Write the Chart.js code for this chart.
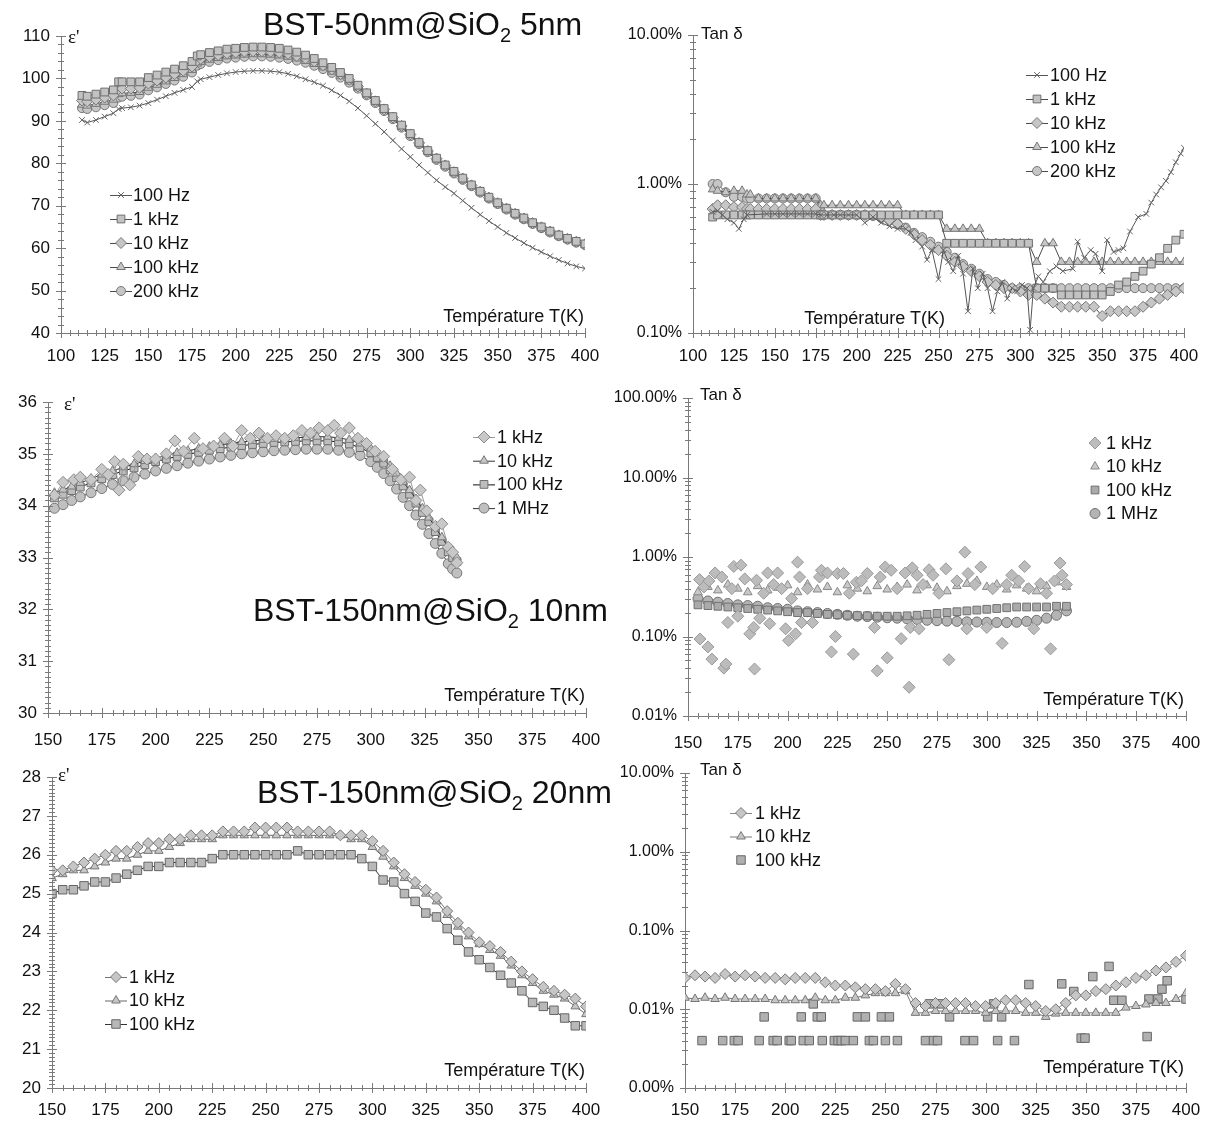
<!DOCTYPE html>
<html>
<head>
<meta charset="utf-8">
<script src="https://cdn.jsdelivr.net/npm/chart.js@4.4.1/dist/chart.umd.min.js"></script>
<style>
    body { margin: 0; background: #fff; width: 1209px; height: 1122px; position: relative; overflow: hidden;
           font-family: "Liberation Sans", Arial, sans-serif; }
    canvas { position: absolute; }
    .lbl { position: absolute; white-space: nowrap; color: #111; line-height: 1; z-index: 2; }
    .title { font-size: 32px; }
    .title sub { font-size: 20px; vertical-align: -7px; line-height: 0; }
    .eps { font-family: "Liberation Serif", serif; font-size: 19px; }
    .tan { font-size: 17px; }
    .xt { font-size: 18px; width: 200px; text-align: right; }
</style>
</head>
<body>
<canvas id="c1"></canvas><canvas id="c2"></canvas>
<canvas id="c3"></canvas><canvas id="c4"></canvas>
<canvas id="c5"></canvas><canvas id="c6"></canvas>

<div class="lbl title" style="left:263px;top:8px">BST-50nm@SiO<sub>2</sub> 5nm</div>
<div class="lbl title" style="left:253px;top:594px">BST-150nm@SiO<sub>2</sub> 10nm</div>
<div class="lbl title" style="left:257px;top:776px">BST-150nm@SiO<sub>2</sub> 20nm</div>

<div class="lbl eps" style="left:68px;top:27px">ε'</div>
<div class="lbl eps" style="left:64px;top:394px">ε'</div>
<div class="lbl eps" style="left:58px;top:765px">ε'</div>

<div class="lbl tan" style="left:701px;top:25px">Tan δ</div>
<div class="lbl tan" style="left:700px;top:386px">Tan δ</div>
<div class="lbl tan" style="left:700px;top:761px">Tan δ</div>

<div class="lbl xt" style="left:384px;top:307px">Température T(K)</div>
<div class="lbl xt" style="left:745px;top:309px">Température T(K)</div>
<div class="lbl xt" style="left:385px;top:686px">Température T(K)</div>
<div class="lbl xt" style="left:984px;top:690px">Température T(K)</div>
<div class="lbl xt" style="left:385px;top:1061px">Température T(K)</div>
<div class="lbl xt" style="left:984px;top:1058px">Température T(K)</div>

<script>
// ---- panel 1 / 2 : BST-50nm@SiO2 5nm ----
const p1Temp = [112,115,120,125,130,133,135,140,145,150,155,160,165,170,175,178,
    180,185,190,195,200,205,210,215,220,225,230,235,240,245,250,255,260,265,270,275,
    280,285,290,295,300,305,310,315,320,325,330,335,340,345,350,355,360,365,370,375,
    380,385,390,395,400];
const p1Eps100Hz = [90.2,89.6,90.2,91,91.8,92.8,93,93.2,93.6,94.2,95,95.8,96.6,97.3,98,99.3,
    99.8,100.3,100.8,101.2,101.5,101.7,101.8,101.8,101.7,101.5,
    101.1,100.5,99.8,99.1,98.3,97.2,96,94.6,93,91.2,
    89.3,87.4,85.4,83.4,81.5,79.6,77.8,76,74.4,72.9,
    71.2,69.5,67.9,66.4,65,63.6,62.4,61.2,60.1,59.1,
    58.1,57.2,56.4,55.7,55.2];
const p1Eps1k = [96,95.8,96.3,96.8,97.3,99.2,99.2,99.2,99.2,100.2,100.8,101.5,102.2,103,104,105.3,
    105.6,106.1,106.5,106.9,107.1,107.3,107.4,107.4,107.3,107.1,
    106.7,106.2,105.5,104.7,103.7,102.6,101.4,100,98.4,96.6,
    94.8,92.9,91,89,87,84.9,83,81.2,79.6,78.1,
    76.5,74.9,73.4,72,70.7,69.4,68.2,67.1,66,65,
    64,63.1,62.3,61.6,61];
const p1Eps10k = [94.8,94.6,95,95.5,96,97.5,97.6,97.6,97.8,98.8,99.5,100.2,101,101.8,102.8,104.2,
    104.6,105.1,105.5,105.9,106.1,106.3,106.4,106.4,106.3,106.1,
    105.8,105.3,104.7,104,103.1,102.1,101,99.7,98.1,96.4,
    94.6,92.7,90.8,88.8,86.8,84.8,82.9,81.1,79.5,77.9,
    76.4,74.8,73.3,71.9,70.6,69.3,68.1,67,65.9,64.9,
    63.9,63,62.2,61.5,60.9];
const p1Eps100k = [93.8,93.6,94,94.5,95,96.3,96.5,96.6,96.8,97.8,98.5,99.3,100.1,101,102,103.5,
    103.9,104.4,104.8,105.2,105.4,105.6,105.7,105.7,105.6,105.4,
    105.1,104.7,104.1,103.4,102.6,101.6,100.5,99.3,97.8,96.2,
    94.4,92.5,90.6,88.6,86.6,84.7,82.8,81,79.4,77.8,
    76.3,74.7,73.2,71.8,70.5,69.2,68,66.9,65.8,64.8,
    63.8,62.9,62.1,61.4,60.8];
const p1Eps200k = [93,92.8,93.2,93.7,94.2,95.5,95.7,95.9,96.2,97.2,97.9,98.7,99.5,100.4,101.4,103,
    103.4,103.9,104.3,104.7,104.9,105.1,105.2,105.2,105.1,104.9,
    104.6,104.2,103.7,103,102.2,101.3,100.2,99,97.6,96,
    94.2,92.3,90.4,88.4,86.4,84.5,82.6,80.8,79.2,77.6,
    76.1,74.6,73.1,71.7,70.4,69.1,67.9,66.8,65.7,64.7,
    63.7,62.8,62,61.3,60.7];

// tan delta in %, same temperatures as p1Temp
const p2Tan1k = [0.6,0.62,0.62,0.62,0.62,0.62,0.62,0.62,0.62,0.62,0.62,0.62,0.62,0.62,0.62,0.62,
    0.62,0.62,0.62,0.62,0.62,0.62,0.62,0.62,0.62,0.62,
    0.62,0.62,0.62,0.62,0.62,0.4,0.4,0.4,0.4,0.4,
    0.4,0.4,0.4,0.4,0.4,0.4,0.2,0.2,0.2,0.18,
    0.18,0.18,0.18,0.18,0.18,0.19,0.21,0.22,0.24,0.26,
    0.29,0.32,0.37,0.42,0.46];
const p2Tan10k = [0.68,0.72,0.72,0.7,0.7,0.68,0.68,0.68,0.68,0.68,0.68,0.68,0.68,0.68,0.68,0.62,
    0.62,0.62,0.62,0.62,0.62,0.62,0.62,0.6,0.57,0.54,
    0.5,0.46,0.42,0.39,0.36,0.33,0.3,0.28,0.26,0.24,
    0.22,0.21,0.2,0.2,0.19,0.18,0.18,0.17,0.16,0.15,
    0.15,0.15,0.15,0.15,0.13,0.14,0.14,0.14,0.14,0.15,
    0.16,0.17,0.18,0.19,0.2];
const p2Tan100k = [0.92,0.9,0.88,0.9,0.9,0.85,0.85,0.8,0.8,0.8,0.8,0.8,0.8,0.8,0.8,0.72,
    0.72,0.72,0.72,0.72,0.72,0.72,0.72,0.72,0.72,0.72,
    0.62,0.62,0.62,0.62,0.62,0.5,0.5,0.5,0.5,0.5,
    0.4,0.4,0.4,0.4,0.4,0.4,0.3,0.4,0.4,0.3,
    0.3,0.3,0.3,0.3,0.3,0.3,0.3,0.3,0.3,0.3,
    0.3,0.3,0.3,0.3,0.3];
const p2Tan200k = [1.0,1.0,0.88,0.82,0.82,0.8,0.8,0.8,0.8,0.8,0.8,0.8,0.8,0.8,0.8,0.66,
    0.62,0.62,0.62,0.62,0.62,0.62,0.61,0.59,0.57,0.54,
    0.51,0.47,0.44,0.41,0.38,0.35,0.32,0.29,0.27,0.25,
    0.23,0.22,0.21,0.2,0.2,0.2,0.2,0.2,0.2,0.2,
    0.2,0.2,0.2,0.2,0.2,0.2,0.2,0.2,0.2,0.2,
    0.2,0.2,0.2,0.2,0.2];
// 100 Hz is noisy, kept as [T, tan%] pairs
const p2Tan100Hz = [[112,0.65],[115,0.66],[118,0.62],[121,0.58],[125,0.55],[128,0.5],[131,0.58],[133,0.62],
    [145,0.63],[150,0.63],[155,0.63],[160,0.63],[165,0.63],[170,0.63],[175,0.63],[178,0.62],
    [182,0.62],[186,0.62],[190,0.62],[195,0.62],[200,0.62],[205,0.55],[210,0.6],[215,0.55],
    [220,0.52],[225,0.5],[230,0.5],[233,0.47],[236,0.42],[240,0.38],[243,0.31],[246,0.36],
    [250,0.23],[253,0.36],[256,0.3],[259,0.26],[262,0.33],[265,0.25],[268,0.14],[271,0.27],
    [274,0.2],[277,0.25],[280,0.2],[283,0.14],[286,0.19],[289,0.22],[292,0.17],[295,0.2],
    [298,0.19],[301,0.21],[304,0.2],[306,0.105],[308,0.2],[311,0.24],[314,0.22],[318,0.26],
    [322,0.28],[326,0.26],[332,0.27],[335,0.41],[339,0.32],[343,0.36],[346,0.34],[350,0.26],
    [353,0.42],[357,0.35],[360,0.36],[363,0.37],[367,0.48],[372,0.6],[377,0.63],[380,0.75],
    [383,0.85],[386,0.95],[389,1.05],[392,1.2],[395,1.4],[398,1.6],[400,1.75]];

// ---- panel 3 / 4 : BST-150nm@SiO2 10nm ----
const p3Temp = [153,157,161,165,170,175,180,185,190,195,200,205,210,215,220,225,230,235,240,245,
    250,255,260,265,270,275,280,285,290,295,300,303,306,309,312,315,318,321,324,327,330,333,336,338,340];
const p3Eps10k = [34.25,34.31,34.37,34.44,
    34.52,34.6,34.67,34.74,34.8,34.86,34.92,34.97,35.02,35.06,35.1,35.14,35.17,35.2,35.23,35.25,
    35.27,35.29,35.3,35.31,35.32,35.33,35.33,35.31,35.27,35.2,35.1,
    35.01,34.9,34.77,34.62,34.46,34.3,34.13,33.95,33.77,33.58,33.39,33.2,
    33.08,33.0];
const p3Eps100k = [34.15,34.22,34.29,34.36,
    34.44,34.52,34.6,34.67,34.73,34.79,34.85,34.9,34.95,34.99,35.03,35.07,35.1,35.13,35.16,35.18,
    35.2,35.22,35.23,35.24,35.25,35.25,35.25,35.23,35.19,35.12,35.02,
    34.93,34.82,34.69,34.54,34.38,34.22,34.05,33.87,33.69,33.5,33.31,33.11,
    33.0,32.92];
const p3Eps1M = [33.95,34.02,34.1,34.17,
    34.25,34.33,34.41,34.48,34.55,34.61,34.67,34.72,34.77,34.82,34.86,34.9,34.94,34.97,35.0,35.02,
    35.04,35.06,35.07,35.08,35.09,35.09,35.09,35.07,35.03,34.97,34.85,
    34.74,34.62,34.48,34.32,34.16,34.0,33.82,33.64,33.46,33.27,33.08,32.88,
    32.78,32.7];
const p3Eps1k = [[153,34.2],[157,34.45],[162,34.5],[165,34.55],[170,34.5],[175,34.7],[178,34.6],
    [181,34.85],[183,34.3],[185,34.8],[188,34.4],[192,34.95],[196,34.9],[200,34.9],[205,35.0],
    [209,35.25],[213,35.05],[218,35.3],[222,35.1],[227,35.15],[232,35.3],[236,35.15],[240,35.45],
    [244,35.3],[248,35.4],[252,35.3],[256,35.35],[260,35.3],[264,35.35],[268,35.45],[272,35.4],
    [276,35.5],[280,35.45],[283,35.55],[286,35.4],[290,35.5],[294,35.3],[298,35.2],[302,35.05],
    [306,34.95],[310,34.7],[314,34.5],[318,34.55],[321,34.1],[323,34.3],[326,33.9],[330,33.6],
    [333,33.65],[336,33.2],[338,33.1],[340,32.9]];

const p4Temp = [155,160,165,170,175,180,185,190,195,200,205,210,215,220,225,230,235,240,245,250,
    255,260,265,270,275,280,285,290,295,300,305,310,315,320,325,330,335,340];
const p4Tan10k = [0.36,0.42,0.38,0.45,0.4,0.36,0.43,0.38,0.41,0.44,
    0.36,0.45,0.39,0.42,0.36,0.44,0.4,0.37,0.43,0.39,
    0.42,0.45,0.38,0.44,0.41,0.37,0.43,0.46,0.5,0.42,
    0.45,0.39,0.44,0.4,0.37,0.43,0.48,0.42];
const p4Tan100k = [0.25,0.245,0.24,0.235,0.23,0.225,0.22,0.215,0.21,0.205,
    0.2,0.2,0.195,0.19,0.188,0.185,0.183,0.182,0.18,0.18,
    0.18,0.182,0.185,0.19,0.195,0.2,0.205,0.21,0.215,0.22,
    0.225,0.23,0.235,0.235,0.235,0.235,0.24,0.24];
const p4Tan1M = [0.3,0.28,0.27,0.26,0.25,0.245,0.24,0.23,0.225,0.22,
    0.21,0.205,0.2,0.195,0.19,0.185,0.18,0.178,0.175,0.172,
    0.17,0.167,0.164,0.16,0.158,0.156,0.155,0.153,0.152,0.151,
    0.15,0.15,0.151,0.155,0.16,0.17,0.185,0.21];
const p4Tan1k = [[155.8,0.52],[156,0.093],[158,0.42],[160,0.074],[160.5,0.5],[162,0.052],[163.6,0.63],
    [167,0.56],[168,0.04],[169,0.045],[170,0.15],[172,0.4],[173,0.76],[175,0.18],[176.6,0.79],
    [178.5,0.53],[181,0.108],[183,0.13],[183.4,0.039],[184.4,0.51],[186,0.17],[188,0.35],[190,0.63],
    [191,0.145],[193,0.45],[195,0.63],[197,0.4],[199,0.125],[200.5,0.089],[202,0.3],[204,0.108],
    [205,0.86],[206,0.56],[207,0.15],[210,0.4],[212.5,0.15],[216,0.56],[217,0.68],[220,0.63],
    [222,0.064],[224,0.1],[225,0.62],[228,0.62],[231,0.35],[233,0.06],[234.5,0.48],[237,0.5],
    [240,0.62],[243.6,0.13],[245,0.037],[246.5,0.56],[249,0.75],[250,0.054],[252,0.68],[255,0.4],
    [257,0.094],[259,0.63],[261,0.023],[261.6,0.13],[262.6,0.73],[265,0.59],[266,0.125],[268,0.45],
    [271,0.69],[273,0.59],[276,0.35],[279.5,0.71],[281,0.051],[285,0.5],[289,1.15],[290,0.125],
    [290.6,0.62],[294,0.45],[297,0.75],[300,0.13],[303,0.4],[307.7,0.082],[310,0.45],[312.5,0.59],
    [316,0.5],[319,0.76],[321,0.4],[323.6,0.125],[327,0.46],[330,0.35],[332,0.07],[334,0.5],
    [336.8,0.84],[337.8,0.59],[340,0.45]];

// ---- panel 5 / 6 : BST-150nm@SiO2 20nm ----
const p5Temp = [150,155,160,165,170,175,180,185,190,195,200,205,210,215,220,225,230,235,240,245,
    250,255,260,265,270,275,280,285,290,295,300,305,310,315,320,325,330,335,340,345,
    350,355,360,365,370,375,380,385,390,395,400];
const p5Eps1k = [25.6,25.6,25.7,25.8,25.9,26.0,26.1,26.1,26.2,26.3,
    26.3,26.4,26.4,26.5,26.5,26.5,26.6,26.6,26.6,26.7,
    26.7,26.7,26.7,26.6,26.6,26.6,26.6,26.5,26.5,26.5,
    26.35,26.1,25.8,25.5,25.3,25.1,24.9,24.55,24.25,24.0,
    23.75,23.65,23.5,23.25,23.0,22.8,22.6,22.5,22.4,22.3,
    22.1];
const p5Eps10k = [25.4,25.5,25.6,25.6,25.7,25.8,25.9,25.9,26.0,26.1,
    26.1,26.2,26.3,26.4,26.4,26.4,26.5,26.5,26.5,26.5,
    26.5,26.5,26.5,26.5,26.5,26.5,26.5,26.5,26.4,26.4,
    26.2,25.95,25.7,25.4,25.2,25.0,24.8,24.45,24.15,23.9,
    23.7,23.55,23.4,23.15,22.9,22.7,22.5,22.4,22.3,22.1,
    21.9];
const p5Eps100k = [25.0,25.1,25.1,25.2,25.3,25.3,25.4,25.5,25.6,25.7,
    25.7,25.8,25.8,25.8,25.8,25.9,26.0,26.0,26.0,26.0,
    26.0,26.0,26.0,26.1,26.0,26.0,26.0,26.0,26.0,25.9,
    25.7,25.35,25.3,25.0,24.8,24.5,24.4,24.1,23.8,23.5,
    23.3,23.1,22.9,22.7,22.5,22.2,22.1,22.0,21.8,21.6,
    21.6];

const p6Tan1k = [0.025,0.027,0.026,0.025,0.028,0.026,0.027,0.026,0.025,0.025,
    0.024,0.025,0.025,0.025,0.022,0.02,0.02,0.019,0.018,0.018,
    0.017,0.021,0.018,0.012,0.011,0.012,0.012,0.012,0.012,0.011,
    0.011,0.012,0.013,0.013,0.012,0.011,0.0095,0.01,0.012,0.015,
    0.015,0.017,0.018,0.02,0.022,0.025,0.027,0.031,0.034,0.04,
    0.048];
const p6Tan10k = [0.014,0.0135,0.014,0.0135,0.014,0.0135,0.0135,0.0135,0.0135,0.013,
    0.013,0.013,0.013,0.014,0.013,0.013,0.014,0.014,0.015,0.016,
    0.016,0.016,0.017,0.009,0.009,0.0095,0.0095,0.0095,0.0095,0.0095,
    0.009,0.0095,0.0095,0.0095,0.009,0.009,0.008,0.0088,0.009,0.009,
    0.009,0.009,0.009,0.009,0.0105,0.011,0.0115,0.012,0.012,0.0135,
    0.016];
const p6Tan100k = [[158.5,0.004],[168.8,0.004],[174.6,0.004],[176.5,0.004],[187,0.004],[189.5,0.008],
    [194,0.004],[196,0.004],[202,0.004],[203,0.004],[208,0.008],[209,0.004],[212,0.004],[214,0.0117],
    [216,0.008],[218,0.008],[218.5,0.004],[224.5,0.004],[226.4,0.004],[228,0.004],[230,0.004],
    [234,0.004],[236,0.008],[240,0.008],[242,0.004],[244,0.004],[248,0.008],[250,0.004],[252,0.008],
    [256,0.004],[270,0.004],[272,0.0117],[274,0.004],[276,0.004],[278,0.0117],[282,0.008],
    [289.7,0.004],[294,0.004],[301,0.008],[304,0.0117],[306,0.004],[308,0.008],[314.4,0.004],
    [321.6,0.0206],[338,0.021],[344,0.0168],[347.7,0.0043],[349.6,0.0043],[353.5,0.026],
    [361.6,0.035],[364,0.013],[368,0.013],[380.6,0.0045],[381.5,0.0135],[386,0.0135],[388,0.018],
    [390.6,0.023],[400,0.0135]];

const logDecades1 = [0.1, 1, 10];
const logDecades2 = [0.01, 0.1, 1, 10, 100];
const logDecades3 = [0.001, 0.01, 0.1, 1, 10];

const FONT = '"Liberation Sans", Arial, sans-serif';

// small tick marks crossing both axes (major + minor)
const axisTicks = {
    id: 'axisTicks',
    afterDraw(chart, args, opts) {
        const { ctx, chartArea: a } = chart;
        const xs = chart.scales.x, ys = chart.scales.y;
        ctx.save();
        ctx.strokeStyle = '#7a7a7a';
        ctx.lineWidth = 1;
        ctx.beginPath();
        const nx = Math.round((xs.max - xs.min) / opts.xMinor);
        const every = Math.round(opts.xMajor / opts.xMinor);
        for (let i = 0; i <= nx; i++) {
            const px = Math.round(xs.getPixelForValue(xs.min + i * opts.xMinor)) + 0.5;
            const len = i % every === 0 ? 5 : 3;
            ctx.moveTo(px, a.bottom - len);
            ctx.lineTo(px, a.bottom + len);
        }
        const yv = [];
        if (ys.type === 'logarithmic') {
            for (let d = ys.min; d < ys.max * 0.999; d *= 10) {
                for (let k = 1; k <= 9; k++) yv.push([d * k, k === 1]);
            }
            yv.push([ys.max, true]);
        } else {
            const ny = Math.round((ys.max - ys.min) / opts.yMinor);
            const ev = Math.round(opts.yMajor / opts.yMinor);
            for (let i = 0; i <= ny; i++) yv.push([ys.min + i * opts.yMinor, i % ev === 0]);
        }
        yv.forEach(([v, major]) => {
            const py = Math.round(ys.getPixelForValue(v)) + 0.5;
            const len = major ? 5 : 3;
            ctx.moveTo(a.left - len, py);
            ctx.lineTo(a.left + len, py);
        });
        ctx.stroke();
        ctx.restore();
    }
};

// legend drawn inside the plot, at a fixed spot
const boxLegend = {
    id: 'boxLegend',
    afterDraw(chart, args, opts) {
        const ctx = chart.ctx;
        ctx.save();
        ctx.font = '18px ' + FONT;
        ctx.textBaseline = 'middle';
        chart.data.datasets.forEach((ds, i) => {
            const x = opts.x, y = opts.y + i * opts.gap;
            if (ds.showLine) {
                ctx.strokeStyle = ds.borderColor;
                ctx.lineWidth = 1;
                ctx.beginPath();
                ctx.moveTo(x - 11, y + 0.5);
                ctx.lineTo(x + 11, y + 0.5);
                ctx.stroke();
            }
            ctx.fillStyle = ds.pointBackgroundColor;
            ctx.strokeStyle = ds.pointBorderColor;
            ctx.lineWidth = 1;
            Chart.helpers.drawPoint(ctx, { pointStyle: ds.pointStyle, radius: ds.pointRadius, rotation: 0, borderWidth: 1 }, x, y);
            ctx.fillStyle = '#111';
            ctx.fillText(ds.label, x + opts.textDx, y + 1);
        });
        ctx.restore();
    }
};

function pts(xs, ys) { return xs.map((x, i) => ({ x: x, y: ys[i] })); }
function pairs(list) { return list.map(p => ({ x: p[0], y: p[1] })); }

function series(label, data, shape, radius, withLine, look) {
    look = look || {};
    return {
        label: label,
        data: data,
        showLine: withLine,
        borderColor: look.line || '#4a4a4a',
        borderWidth: 1,
        pointStyle: shape,
        pointRadius: radius,
        pointBackgroundColor: look.fill || (shape === 'crossRot' ? '#6a6a6a' : '#c6c6c6'),
        pointBorderColor: look.edge || '#777',
        pointBorderWidth: 1
    };
}

function makePanel(p) {
    const cv = document.getElementById(p.id);
    cv.width = p.w;
    cv.height = p.h;
    cv.style.left = p.left + 'px';
    cv.style.top = p.top + 'px';
    const tickFont = { family: FONT, size: 17 };
    const yLog = p.yType === 'logarithmic';
    const yScale = {
        type: p.yType,
        min: p.yMin,
        max: p.yMax,
        ticks: { color: '#111', font: yLog ? { family: FONT, size: 16 } : tickFont, padding: 11, autoSkip: false },
        grid: { display: true, drawOnChartArea: false, drawTicks: false },
        border: { display: true, color: '#7a7a7a', width: 1 },
        // fixed axis width, and no extra room asked for the end labels
        afterFit: s => { s.width = p.area.l - p.left; s.paddingTop = 0; s.paddingBottom = 0; }
    };
    if (yLog) {
        yScale.afterBuildTicks = s => { s.ticks = p.yTicks.map(v => ({ value: v })); };
        yScale.ticks.callback = v => Number(v).toFixed(2) + '%';
    } else {
        yScale.ticks.stepSize = p.yStep;
    }
    new Chart(cv, {
        type: 'scatter',
        data: { datasets: p.datasets },
        options: {
            responsive: false,
            animation: false,
            events: [],
            layout: { padding: { top: p.area.t - p.top, right: p.left + p.w - p.area.r, left: 0, bottom: 0 } },
            elements: { line: { tension: 0 } },
            plugins: {
                legend: { display: false },
                tooltip: { enabled: false },
                axisTicks: p.minor,
                boxLegend: p.legend
            },
            scales: {
                x: {
                    type: 'linear',
                    min: p.xMin,
                    max: p.xMax,
                    ticks: { stepSize: 25, autoSkip: false, maxRotation: 0, padding: p.xPad, color: '#111', font: tickFont },
                    grid: { display: true, drawOnChartArea: false, drawTicks: false },
                    border: { display: true, color: '#7a7a7a', width: 1 },
                    afterFit: s => { s.height = p.top + p.h - p.area.b; s.paddingLeft = 0; s.paddingRight = 0; }
                },
                y: yScale
            }
        },
        plugins: [axisTicks, boxLegend]
    });
}

document.addEventListener("DOMContentLoaded", function () {
    const sq = { fill: '#c2c2c2', edge: '#6f6f6f' };

    makePanel({
        id: 'c1', left: 0, top: 0, w: 600, h: 375, area: { l: 61, t: 36, r: 585, b: 333 }, xPad: 13,
        xMin: 100, xMax: 400, yType: 'linear', yMin: 40, yMax: 110, yStep: 10,
        minor: { xMinor: 5, xMajor: 25, yMinor: 2, yMajor: 10 },
        legend: { x: 121, y: 195, gap: 24, textDx: 12 },
        datasets: [
            series('100 Hz', pts(p1Temp, p1Eps100Hz), 'crossRot', 4, true, { line: '#555', edge: '#666' }),
            series('1 kHz', pts(p1Temp, p1Eps1k), 'rect', 5.5, true, sq),
            series('10 kHz', pts(p1Temp, p1Eps10k), 'rectRot', 5.5, true),
            series('100 kHz', pts(p1Temp, p1Eps100k), 'triangle', 5, true),
            series('200 kHz', pts(p1Temp, p1Eps200k), 'circle', 4.5, true)
        ]
    });

    makePanel({
        id: 'c2', left: 600, top: 0, w: 609, h: 375, area: { l: 693, t: 35, r: 1184, b: 333 }, xPad: 13,
        xMin: 100, xMax: 400, yType: 'logarithmic', yMin: 0.1, yMax: 10, yTicks: logDecades1,
        minor: { xMinor: 5, xMajor: 25 },
        legend: { x: 437, y: 75, gap: 24, textDx: 13 },
        datasets: [
            series('100 Hz', pairs(p2Tan100Hz), 'crossRot', 4, true, { line: '#555', edge: '#666' }),
            series('1 kHz', pts(p1Temp, p2Tan1k), 'rect', 5.5, true, sq),
            series('10 kHz', pts(p1Temp, p2Tan10k), 'rectRot', 5.5, true),
            series('100 kHz', pts(p1Temp, p2Tan100k), 'triangle', 5, true),
            series('200 kHz', pts(p1Temp, p2Tan200k), 'circle', 4.5, true)
        ]
    });

    makePanel({
        id: 'c3', left: 0, top: 375, w: 605, h: 385, area: { l: 48, t: 402, r: 586, b: 713 }, xPad: 17,
        xMin: 150, xMax: 400, yType: 'linear', yMin: 30, yMax: 36, yStep: 1,
        minor: { xMinor: 5, xMajor: 25, yMinor: 0.1, yMajor: 1 },
        legend: { x: 484, y: 62, gap: 23.7, textDx: 13 },
        datasets: [
            series('1 kHz', pairs(p3Eps1k), 'rectRot', 6, true, { line: '#999', fill: '#c8c8c8', edge: '#8a8a8a' }),
            series('10 kHz', pts(p3Temp, p3Eps10k), 'triangle', 5, true, { line: '#333' }),
            series('100 kHz', pts(p3Temp, p3Eps100k), 'rect', 5.5, true, { line: '#111', fill: '#bdbdbd', edge: '#6f6f6f' }),
            series('1 MHz', pts(p3Temp, p3Eps1M), 'circle', 5, true, { line: '#333', fill: '#c0c0c0' })
        ]
    });

    makePanel({
        id: 'c4', left: 605, top: 375, w: 604, h: 385, area: { l: 688, t: 398, r: 1186, b: 716 }, xPad: 17,
        xMin: 150, xMax: 400, yType: 'logarithmic', yMin: 0.01, yMax: 100, yTicks: logDecades2,
        minor: { xMinor: 5, xMajor: 25 },
        legend: { x: 490, y: 68, gap: 23.5, textDx: 11 },
        datasets: [
            series('1 kHz', pairs(p4Tan1k), 'rectRot', 6, false, { fill: '#bcbcbc', edge: '#999' }),
            series('10 kHz', pts(p4Temp, p4Tan10k), 'triangle', 5, false, { fill: '#c8c8c8', edge: '#888' }),
            series('100 kHz', pts(p4Temp, p4Tan100k), 'rect', 5.5, false, { fill: '#aaa', edge: '#707070' }),
            series('1 MHz', pts(p4Temp, p4Tan1M), 'circle', 5, false, { fill: '#b4b4b4', edge: '#707070' })
        ]
    });

    makePanel({
        id: 'c5', left: 0, top: 760, w: 605, h: 362, area: { l: 52, t: 777, r: 586, b: 1088 }, xPad: 12,
        xMin: 150, xMax: 400, yType: 'linear', yMin: 20, yMax: 28, yStep: 1,
        minor: { xMinor: 5, xMajor: 25, yMinor: 0.1, yMajor: 1 },
        legend: { x: 116, y: 217, gap: 23.5, textDx: 13 },
        datasets: [
            series('1 kHz', pts(p5Temp, p5Eps1k), 'rectRot', 5.5, true, { line: '#777' }),
            series('10 kHz', pts(p5Temp, p5Eps10k), 'triangle', 5, true, { line: '#666' }),
            series('100 kHz', pts(p5Temp, p5Eps100k), 'rect', 6, true, { line: '#333', fill: '#b8b8b8', edge: '#666' })
        ]
    });

    makePanel({
        id: 'c6', left: 605, top: 760, w: 604, h: 362, area: { l: 685, t: 773, r: 1186, b: 1088 }, xPad: 12,
        xMin: 150, xMax: 400, yType: 'logarithmic', yMin: 0.001, yMax: 10, yTicks: logDecades3,
        minor: { xMinor: 5, xMajor: 25 },
        legend: { x: 136, y: 53, gap: 23.5, textDx: 14 },
        datasets: [
            series('1 kHz', pts(p5Temp, p6Tan1k), 'rectRot', 5.5, true, { line: '#888' }),
            series('10 kHz', pts(p5Temp, p6Tan10k), 'triangle', 5, true, { line: '#777' }),
            series('100 kHz', pairs(p6Tan100k), 'rect', 6, false, { fill: '#b0b0b0', edge: '#666' })
        ]
    });
});
</script>
</body>
</html>
